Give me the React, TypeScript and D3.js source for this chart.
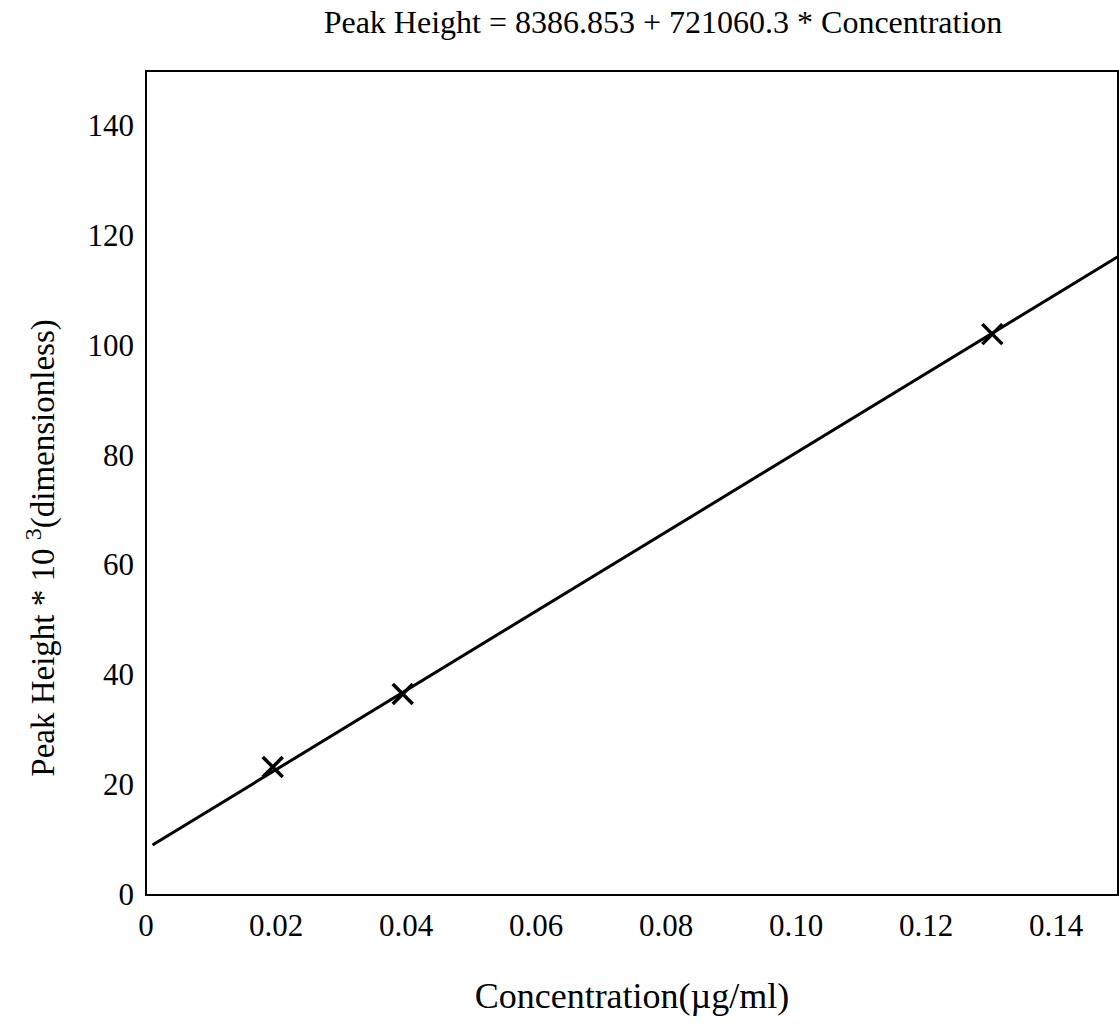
import React, { useEffect, useRef } from 'react';
import * as d3 from 'd3';

// calibration points (concentration in ug/ml, peak height in thousands)
const concentration = [0.0195, 0.0395, 0.1302];
const peakHeight = [23.3, 36.6, 102.1];

// regression from the title: 8386.853 + 721060.3 * c  (scaled by 1e-3)
const fitCoef = [8.386853, 721.0603];
const fitRange = [0.001, 0.1495];

const xTicks = [0, 0.02, 0.04, 0.06, 0.08, 0.1, 0.12, 0.14];
const xTickLabels = ['0', '0.02', '0.04', '0.06', '0.08', '0.10', '0.12', '0.14'];
const yTicks = [0, 20, 40, 60, 80, 100, 120, 140];

function App() {
  const ref = useRef(null);

  useEffect(() => {
    if (!ref.current) return;
    const width = 1119;
    const height = 1026;
    const margin = { top: 71, right: 1, bottom: 131, left: 146 };
    const font = '"Liberation Serif", "Times New Roman", serif';

    d3.select(ref.current).select('svg').remove();

    const svg = d3.select(ref.current)
      .append('svg')
      .attr('width', width)
      .attr('height', height)
      .style('position', 'absolute')
      .style('left', 0)
      .style('top', 0)
      .style('background', '#fff');

    const x = d3.scaleLinear()
      .domain([0, 0.15])
      .range([margin.left, margin.left + 0.15 * 6500]);
    const y = d3.scaleLinear()
      .domain([0, 150])
      .range([height - margin.bottom, margin.top]);

    const plotRight = width - margin.right;

    // frame
    svg.append('rect')
      .attr('x', margin.left)
      .attr('y', margin.top)
      .attr('width', plotRight - margin.left)
      .attr('height', y(0) - margin.top)
      .attr('fill', 'none')
      .attr('stroke', '#000')
      .attr('stroke-width', 2);

    // tick labels
    svg.append('g')
      .selectAll('text')
      .data(xTicks)
      .join('text')
      .attr('x', d => x(d))
      .attr('y', y(0) + 41)
      .attr('text-anchor', 'middle')
      .style('font-family', font)
      .style('font-size', '31px')
      .text((d, i) => xTickLabels[i]);

    svg.append('g')
      .selectAll('text')
      .data(yTicks)
      .join('text')
      .attr('x', margin.left - 12)
      .attr('y', d => y(d) + 10)
      .attr('text-anchor', 'end')
      .style('font-family', font)
      .style('font-size', '31px')
      .text(d => d);

    // fitted line
    const fit = fitRange.map(c => [c, fitCoef[0] + fitCoef[1] * c]);
    svg.append('path')
      .datum(fit)
      .attr('d', d3.line().x(d => x(d[0])).y(d => y(d[1])))
      .attr('fill', 'none')
      .attr('stroke', '#000')
      .attr('stroke-width', 3);

    // x markers
    const s = 10;
    concentration.forEach((c, i) => {
      const cx = x(c);
      const cy = y(peakHeight[i]);
      svg.append('path')
        .attr('d', `M${cx - s},${cy - s}L${cx + s},${cy + s}M${cx - s},${cy + s}L${cx + s},${cy - s}`)
        .attr('stroke', '#000')
        .attr('stroke-width', 3.5)
        .attr('fill', 'none');
    });

    // titles
    svg.append('text')
      .attr('x', 663)
      .attr('y', 33)
      .attr('text-anchor', 'middle')
      .style('font-family', font)
      .style('font-size', '32px')
      .text('Peak Height = 8386.853 + 721060.3 * Concentration');

    svg.append('text')
      .attr('x', 632)
      .attr('y', 1008)
      .attr('text-anchor', 'middle')
      .style('font-family', font)
      .style('font-size', '36px')
      .text('Concentration(\u00b5g/ml)');

    const yt = svg.append('text')
      .attr('transform', `translate(54,548) rotate(-90)`)
      .attr('text-anchor', 'middle')
      .style('font-family', font)
      .style('font-size', '33px');
    yt.append('tspan').text('Peak Height * 10 ');
    yt.append('tspan').attr('dy', -13).style('font-size', '24px').text('3');
    yt.append('tspan').attr('dy', 13).text('(dimensionless)');
  }, []);

  return <div ref={ref} />;
}

export default App;
